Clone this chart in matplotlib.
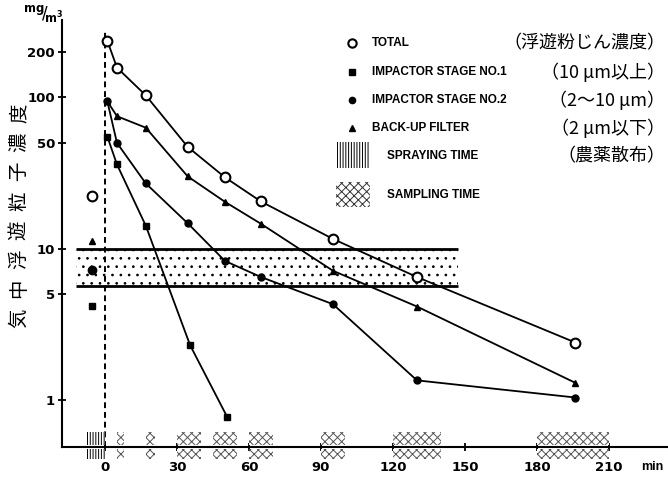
import matplotlib
matplotlib.use("Agg")
import matplotlib.pyplot as plt
import matplotlib.transforms as mtrans
from matplotlib.patches import Rectangle
from matplotlib.lines import Line2D

# ---- data: airborne particle concentration after pesticide spraying (mg/m3) ----
times = [1, 5, 17, 34.5, 50, 65, 95, 130, 196]          # min
total = [236, 157, 103, 47, 29.6, 20.5, 11.6, 6.5, 2.4]
stage2 = [94, 50, 27, 14.7, 8.3, 6.5, 4.3, 1.35, 1.04]
backup = [94, 75, 63, 30, 20.4, 14.6, 7.15, 4.15, 1.3]
stage1_times = [1, 5, 17, 35.5, 51]
stage1 = [55, 36, 14.2, 2.3, 0.77]

# background level measured before spraying
pre_time = -5.5
pre_total, pre_stage1, pre_stage2, pre_backup = 22.4, 4.2, 7.2, 11.3

spray_period = (-8, 0)
sampling_periods = [(5, 8), (17, 21), (30, 40), (45, 55), (60, 70),
                    (90, 100), (120, 140), (180, 210)]
band_range = (5.7, 10)
band_period = (-12, 147)

xticks = [0, 30, 60, 90, 120, 150, 180, 210]
yticks = [1, 5, 10, 50, 100, 200]
ylabel = "気中浮遊粒子濃度"

JP = ["Noto Sans CJK JP", "DejaVu Sans"]
LAT = ["Liberation Sans", "DejaVu Sans"]

plt.rcParams["hatch.linewidth"] = 0.7

W, H = 668, 478
fig = plt.figure(figsize=(W / 100, H / 100), dpi=100)
fig.patch.set_facecolor("white")


def fx(px):
    return px / W


def fy(py):
    return 1 - py / H


ax = fig.add_axes([fx(62), fy(447), fx(668) - fx(62), fy(20) - fy(447)])
ax.set_yscale("log")
ax.set_xlim(-17.9, 234.6)
ax.set_ylim(0.49, 324)
ax.patch.set_alpha(0)

for s in ("top", "right"):
    ax.spines[s].set_visible(False)
for s in ("left", "bottom"):
    ax.spines[s].set_linewidth(1.5)

ax.set_xticks(xticks)
ax.set_xticklabels([str(t) for t in xticks])
ax.set_yticks(yticks)
ax.set_yticklabels([str(t) for t in yticks])
ax.minorticks_off()
ax.tick_params(axis="both", direction="inout", length=6, width=1.3,
               labelsize=9.5, pad=2)
ax.tick_params(axis="x", pad=7)
for lab in ax.get_xticklabels() + ax.get_yticklabels():
    lab.set_fontweight("bold")

# stippled reference band
ax.fill_between(band_period, band_range[0], band_range[1], facecolor="white",
                edgecolor="black", hatch="..", linewidth=0, zorder=1)
ax.hlines(band_range, band_period[0], band_period[1], colors="black",
          linewidth=2, zorder=2)

# start of spraying
ax.vlines(0, 0.49, 270, colors="black", linestyles=(0, (3, 2)),
          linewidth=1.4, zorder=2)

line_kw = dict(color="black", linewidth=1.3, zorder=3)
ax.plot(times, total, marker="o", markersize=7, markerfacecolor="white",
        markeredgewidth=1.5, **line_kw)
ax.plot(times, backup, marker="^", markersize=4, **line_kw)
ax.plot(times, stage2, marker="o", markersize=5, **line_kw)
ax.plot(stage1_times, stage1, marker="s", markersize=4.5, **line_kw)

ax.plot([pre_time], [pre_total], marker="o", markersize=7,
        markerfacecolor="white", markeredgecolor="black",
        markeredgewidth=1.5, zorder=3)
ax.plot([pre_time], [pre_backup], marker="^", markersize=4, color="black")
ax.plot([pre_time], [pre_stage2], marker="o", markersize=6, color="black")
ax.plot([pre_time], [pre_stage1], marker="s", markersize=4.5, color="black")

# time bars straddling the time axis
btf = mtrans.blended_transform_factory(ax.transData, ax.transAxes)
up0, up1, lo0, lo1 = 0.005, 0.035, -0.005, -0.028
for y0, y1 in ((up0, up1), (lo1, lo0)):
    ax.add_patch(Rectangle((spray_period[0], y0), spray_period[1] - spray_period[0],
                           y1 - y0, transform=btf, facecolor="white",
                           edgecolor="black", hatch="||||||", linewidth=0,
                           clip_on=False, zorder=4))
for a, b in sampling_periods:
    for y0, y1 in ((up0, up1), (lo1, lo0)):
        ax.add_patch(Rectangle((a, y0), b - a, y1 - y0, transform=btf,
                               facecolor="white", edgecolor="#555555",
                               hatch="xxxx", linewidth=0, clip_on=False,
                               zorder=4))

# axis labels
fig.text(fx(43), fy(13), r"$^{\mathbf{mg}}\!/\!_{\mathbf{m^{3}}}$",
         ha="center", va="center", fontsize=12)
fig.text(fx(652), fy(467), "min", ha="center", va="center",
         fontsize=9, fontweight="bold", family=LAT)
n = len(ylabel)
for i, ch in enumerate(ylabel):
    yc = 318 - i * (318 - 113) / (n - 1)
    fig.text(fx(19), fy(yc), ch, rotation=90, ha="center", va="center",
             fontsize=14, family=JP)

# legend
txt_kw = dict(fontsize=8.5, fontweight="bold", family=LAT,
              ha="left", va="center")
jp_kw = dict(fontsize=13, family=JP, ha="right", va="center")
rows = [
    (43, dict(marker="o", markersize=6, markerfacecolor="white",
              markeredgewidth=1.5), "TOTAL", "（浮遊粉じん濃度）"),
    (72, dict(marker="s", markersize=4), "IMPACTOR STAGE NO.1", "（10 μm以上）"),
    (100, dict(marker="o", markersize=4.5), "IMPACTOR STAGE NO.2", "（2～10 μm）"),
    (128, dict(marker="^", markersize=4), "BACK-UP FILTER", "（2 μm以下）"),
]
for py, mk, label, jp in rows:
    fig.add_artist(Line2D([fx(352)], [fy(py)], color="black", linestyle="none",
                          transform=fig.transFigure, **mk))
    fig.text(fx(372), fy(py), label, **txt_kw)
    fig.text(fx(665), fy(py), jp, **jp_kw)

fig.add_artist(Rectangle((fx(336), fy(168)), fx(370) - fx(336), fy(142) - fy(168),
                         transform=fig.transFigure, facecolor="white",
                         edgecolor="black", hatch="||||||", linewidth=0))
fig.text(fx(387), fy(156), "SPRAYING TIME", **txt_kw)
fig.text(fx(665), fy(156), "（農薬散布）", **jp_kw)

fig.add_artist(Rectangle((fx(336), fy(207)), fx(370) - fx(336), fy(182) - fy(207),
                         transform=fig.transFigure, facecolor="white",
                         edgecolor="#333333", hatch="xxxx", linewidth=0))
fig.text(fx(387), fy(195), "SAMPLING TIME", **txt_kw)

fig.savefig("out.png", dpi=100, facecolor="white")
